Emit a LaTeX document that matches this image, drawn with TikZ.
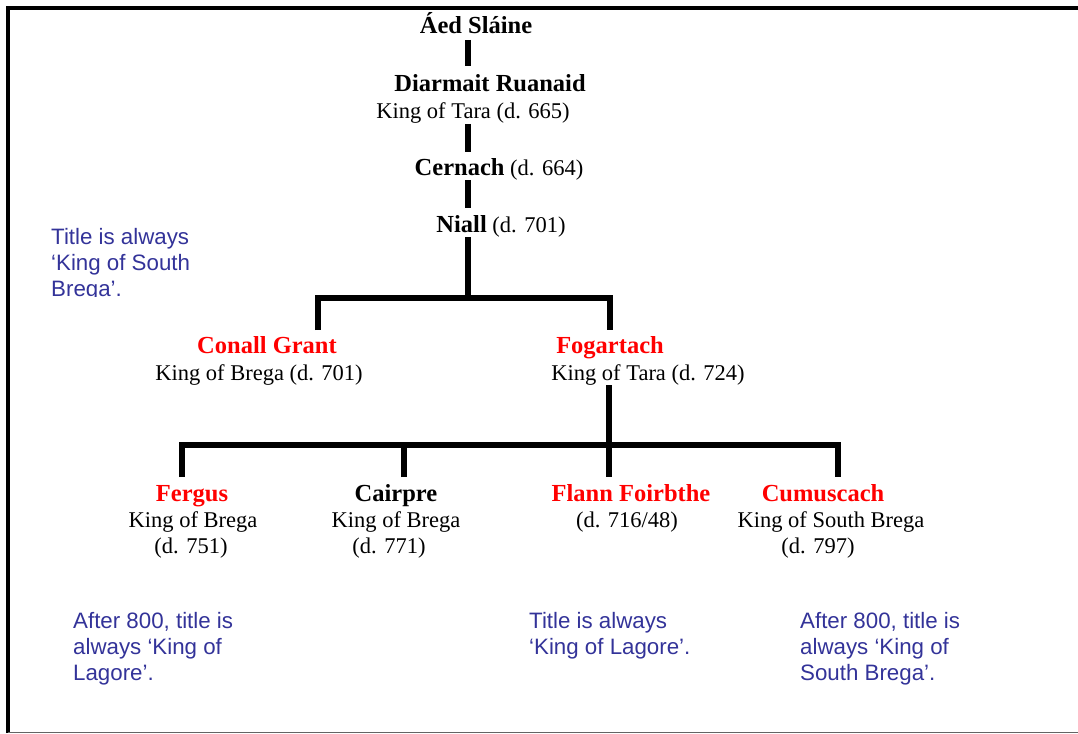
\documentclass[tikz,border=0pt]{standalone}
\usepackage{fontspec}
\setmainfont{Liberation Serif}
\newfontfamily\notefont{Liberation Sans}
\definecolor{noteblue}{RGB}{51,51,153}
\definecolor{namered}{RGB}{255,0,0}
\definecolor{framegray}{RGB}{100,100,100}
\newcommand{\bnm}[1]{{\fontsize{24.5}{26}\selectfont\bfseries #1}}
\begin{document}
\begin{tikzpicture}[x=1pt,y=-1pt,
  nm/.style={font=\fontsize{24.5}{26}\selectfont\bfseries, inner sep=0pt, anchor=base},
  rednm/.style={nm, text=namered},
  rg/.style={font=\fontsize{22.5}{26}\selectfont, inner sep=0pt, anchor=base},
  note/.style={font=\notefont\fontsize{22.3}{26}\selectfont, text=noteblue, inner sep=0pt, anchor=base west, align=left},
  bar/.style={line width=5.5pt, line join=miter, line cap=butt}]
\useasboundingbox (0,0) rectangle (1078,733);
% frame
\draw[line width=4pt] (8,733) -- (8,8) -- (1078,8);
\draw[line width=1pt, framegray] (8,732.5) -- (1078,732.5);
% people
\node[nm] (aed) at (476,34) {Áed Sláine};
\node[nm] (diarmait) at (490,92) {Diarmait Ruanaid};
\node[rg] (diarmaitt) at (473,118) {King of Tara (d. 665)};
\node[rg] (cernach) at (499,175) {\bnm{Cernach} (d. 664)};
\node[rg] (niall) at (501,232) {\bnm{Niall} (d. 701)};
\node[rednm] (conall) at (267,353) {Conall Grant};
\node[rg] (conallt) at (259,380) {King of Brega (d. 701)};
\node[rednm] (fogartach) at (610,353) {Fogartach};
\node[rg] (fogartacht) at (648,380) {King of Tara (d. 724)};
\node[rednm] (fergus) at (192,501) {Fergus};
\node[rg] (fergust) at (193,527) {King of Brega};
\node[rg] (fergusd) at (191,553) {(d. 751)};
\node[nm] (cairpre) at (396,501) {Cairpre};
\node[rg] (cairpret) at (396,527) {King of Brega};
\node[rg] (cairpred) at (389,553) {(d. 771)};
\node[rednm] (flann) at (631,501) {Flann Foirbthe};
\node[rg] (flannd) at (627,527) {(d. 716/48)};
\node[rednm] (cumuscach) at (823,501) {Cumuscach};
\node[rg] (cumuscacht) at (831,527) {King of South Brega};
\node[rg] (cumuscachd) at (818,553) {(d. 797)};
% connector end points
\coordinate (a1) at (468,40);   \coordinate (a2) at (468,66);
\coordinate (b1) at (468,124);  \coordinate (b2) at (468,152);
\coordinate (c1) at (468,180);  \coordinate (c2) at (468,208);
\coordinate (n1) at (468,237);  \coordinate (nj) at (468,298);
\coordinate (cg) at (318,330);  \coordinate (fg) at (610,330);
\coordinate (f1) at (609,385);  \coordinate (fj) at (609,445);
\coordinate (k1) at (182,477);  \coordinate (k2) at (404,477);
\coordinate (k3) at (609,477);  \coordinate (k4) at (838,477);
% connectors
\draw[bar] (a1) -- (a2);
\draw[bar] (b1) -- (b2);
\draw[bar] (c1) -- (c2);
\draw[bar] (n1) -- (nj);
\draw[bar] (cg) -- (cg |- nj) -- (fg |- nj) -- (fg);
\draw[bar] (f1) -- (k3);
\draw[bar] (k1) -- (k1 |- fj) -- (k4 |- fj) -- (k4);
\draw[bar] (k2) -- (k2 |- fj);
% notes (anchor is the baseline of the last line)
\begin{scope}
  \clip (40,200) rectangle (300,296);
  \node[note] (note1) at (51,296) {Title is always\\‘King of South\\Brega’.};
\end{scope}
\node[note] (note2) at (73,680) {After 800, title is\\always ‘King of\\Lagore’.};
\node[note] (note3) at (529,654) {Title is always\\‘King of Lagore’.};
\node[note] (note4) at (800,680) {After 800, title is\\always ‘King of\\South Brega’.};
\end{tikzpicture}
\end{document}
